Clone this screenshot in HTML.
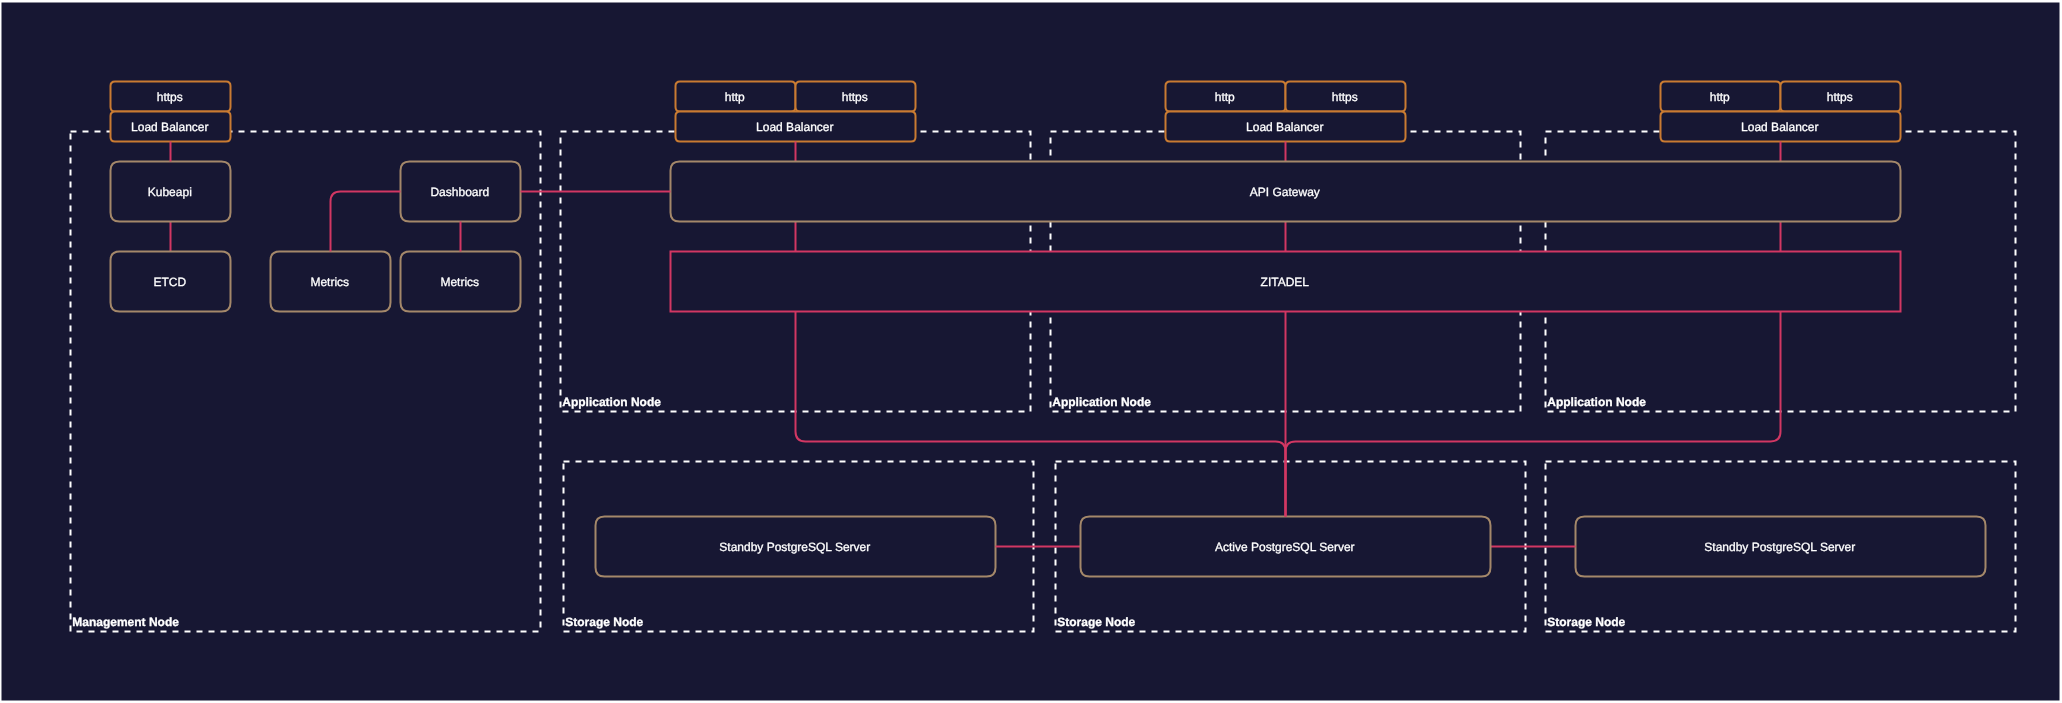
<!DOCTYPE html>
<html><head><meta charset="utf-8"><style>
html,body{margin:0;padding:0;background:#fff;}
body{width:2062px;height:703px;overflow:hidden;}
svg{display:block;will-change:transform;}
text{font-family:"Liberation Sans",sans-serif;text-rendering:geometricPrecision;}
</style></head><body>
<svg width="2062" height="703" viewBox="0 0 2062 703">
<rect x="0" y="0" width="2062" height="703" fill="#FFFFFF"/>
<rect x="1.5" y="2.5" width="2058" height="698" fill="#171733"/>
<g font-family="Liberation Sans, sans-serif" font-size="12" fill="#FFFFFF" stroke="#FFFFFF" stroke-width="0.3">
<rect x="70.5" y="131.5" width="470" height="500" fill="none" stroke="#FFFFFF" stroke-width="2" stroke-dasharray="6 6"/>
<rect x="560.5" y="131.5" width="470" height="280" fill="none" stroke="#FFFFFF" stroke-width="2" stroke-dasharray="6 6"/>
<rect x="1050.5" y="131.5" width="470" height="280" fill="none" stroke="#FFFFFF" stroke-width="2" stroke-dasharray="6 6"/>
<rect x="1545.5" y="131.5" width="470" height="280" fill="none" stroke="#FFFFFF" stroke-width="2" stroke-dasharray="6 6"/>
<rect x="563.5" y="461.5" width="470" height="170" fill="none" stroke="#FFFFFF" stroke-width="2" stroke-dasharray="6 6"/>
<rect x="1055.5" y="461.5" width="470" height="170" fill="none" stroke="#FFFFFF" stroke-width="2" stroke-dasharray="6 6"/>
<rect x="1545.5" y="461.5" width="470" height="170" fill="none" stroke="#FFFFFF" stroke-width="2" stroke-dasharray="6 6"/>
<path d="M115.0 81.5L226.0 81.5Q230.5 81.5 230.5 86.0L230.5 107.0Q230.5 111.5 226.0 111.5L115.0 111.5Q110.5 111.5 110.5 107.0L110.5 86.0Q110.5 81.5 115.0 81.5Z" fill="#171733" stroke="#C97B32" stroke-width="2"/>
<path d="M115.0 111.5L226.0 111.5Q230.5 111.5 230.5 116.0L230.5 137.0Q230.5 141.5 226.0 141.5L115.0 141.5Q110.5 141.5 110.5 137.0L110.5 116.0Q110.5 111.5 115.0 111.5Z" fill="#171733" stroke="#C97B32" stroke-width="2"/>
<path d="M680.0 81.5L791.0 81.5Q795.5 81.5 795.5 86.0L795.5 107.0Q795.5 111.5 791.0 111.5L680.0 111.5Q675.5 111.5 675.5 107.0L675.5 86.0Q675.5 81.5 680.0 81.5Z" fill="#171733" stroke="#C97B32" stroke-width="2"/>
<path d="M800.0 81.5L911.0 81.5Q915.5 81.5 915.5 86.0L915.5 107.0Q915.5 111.5 911.0 111.5L800.0 111.5Q795.5 111.5 795.5 107.0L795.5 86.0Q795.5 81.5 800.0 81.5Z" fill="#171733" stroke="#C97B32" stroke-width="2"/>
<path d="M680.0 111.5L911.0 111.5Q915.5 111.5 915.5 116.0L915.5 137.0Q915.5 141.5 911.0 141.5L680.0 141.5Q675.5 141.5 675.5 137.0L675.5 116.0Q675.5 111.5 680.0 111.5Z" fill="#171733" stroke="#C97B32" stroke-width="2"/>
<path d="M1170.0 81.5L1281.0 81.5Q1285.5 81.5 1285.5 86.0L1285.5 107.0Q1285.5 111.5 1281.0 111.5L1170.0 111.5Q1165.5 111.5 1165.5 107.0L1165.5 86.0Q1165.5 81.5 1170.0 81.5Z" fill="#171733" stroke="#C97B32" stroke-width="2"/>
<path d="M1290.0 81.5L1401.0 81.5Q1405.5 81.5 1405.5 86.0L1405.5 107.0Q1405.5 111.5 1401.0 111.5L1290.0 111.5Q1285.5 111.5 1285.5 107.0L1285.5 86.0Q1285.5 81.5 1290.0 81.5Z" fill="#171733" stroke="#C97B32" stroke-width="2"/>
<path d="M1170.0 111.5L1401.0 111.5Q1405.5 111.5 1405.5 116.0L1405.5 137.0Q1405.5 141.5 1401.0 141.5L1170.0 141.5Q1165.5 141.5 1165.5 137.0L1165.5 116.0Q1165.5 111.5 1170.0 111.5Z" fill="#171733" stroke="#C97B32" stroke-width="2"/>
<path d="M1665.0 81.5L1776.0 81.5Q1780.5 81.5 1780.5 86.0L1780.5 107.0Q1780.5 111.5 1776.0 111.5L1665.0 111.5Q1660.5 111.5 1660.5 107.0L1660.5 86.0Q1660.5 81.5 1665.0 81.5Z" fill="#171733" stroke="#C97B32" stroke-width="2"/>
<path d="M1785.0 81.5L1896.0 81.5Q1900.5 81.5 1900.5 86.0L1900.5 107.0Q1900.5 111.5 1896.0 111.5L1785.0 111.5Q1780.5 111.5 1780.5 107.0L1780.5 86.0Q1780.5 81.5 1785.0 81.5Z" fill="#171733" stroke="#C97B32" stroke-width="2"/>
<path d="M1665.0 111.5L1896.0 111.5Q1900.5 111.5 1900.5 116.0L1900.5 137.0Q1900.5 141.5 1896.0 141.5L1665.0 141.5Q1660.5 141.5 1660.5 137.0L1660.5 116.0Q1660.5 111.5 1665.0 111.5Z" fill="#171733" stroke="#C97B32" stroke-width="2"/>
<path d="M170.5 221.5 L170.5 251.5" fill="none" stroke="#D23763" stroke-width="2"/>
<path d="M795.5 141.5 L795.5 161.5" fill="none" stroke="#D23763" stroke-width="2"/>
<path d="M795.5 221.5 L795.5 251.5" fill="none" stroke="#D23763" stroke-width="2"/>
<path d="M1285.5 141.5 L1285.5 161.5" fill="none" stroke="#D23763" stroke-width="2"/>
<path d="M1285.5 221.5 L1285.5 251.5" fill="none" stroke="#D23763" stroke-width="2"/>
<path d="M1780.5 141.5 L1780.5 161.5" fill="none" stroke="#D23763" stroke-width="2"/>
<path d="M1780.5 221.5 L1780.5 251.5" fill="none" stroke="#D23763" stroke-width="2"/>
<path d="M119.5 161.5L221.5 161.5Q230.5 161.5 230.5 170.5L230.5 212.5Q230.5 221.5 221.5 221.5L119.5 221.5Q110.5 221.5 110.5 212.5L110.5 170.5Q110.5 161.5 119.5 161.5Z" fill="#171733" stroke="#A4886A" stroke-width="2"/>
<path d="M119.5 251.5L221.5 251.5Q230.5 251.5 230.5 260.5L230.5 302.5Q230.5 311.5 221.5 311.5L119.5 311.5Q110.5 311.5 110.5 302.5L110.5 260.5Q110.5 251.5 119.5 251.5Z" fill="#171733" stroke="#A4886A" stroke-width="2"/>
<path d="M279.5 251.5L381.5 251.5Q390.5 251.5 390.5 260.5L390.5 302.5Q390.5 311.5 381.5 311.5L279.5 311.5Q270.5 311.5 270.5 302.5L270.5 260.5Q270.5 251.5 279.5 251.5Z" fill="#171733" stroke="#A4886A" stroke-width="2"/>
<path d="M409.5 251.5L511.5 251.5Q520.5 251.5 520.5 260.5L520.5 302.5Q520.5 311.5 511.5 311.5L409.5 311.5Q400.5 311.5 400.5 302.5L400.5 260.5Q400.5 251.5 409.5 251.5Z" fill="#171733" stroke="#A4886A" stroke-width="2"/>
<path d="M409.5 161.5L511.5 161.5Q520.5 161.5 520.5 170.5L520.5 212.5Q520.5 221.5 511.5 221.5L409.5 221.5Q400.5 221.5 400.5 212.5L400.5 170.5Q400.5 161.5 409.5 161.5Z" fill="#171733" stroke="#A4886A" stroke-width="2"/>
<path d="M679.5 161.5L1891.5 161.5Q1900.5 161.5 1900.5 170.5L1900.5 212.5Q1900.5 221.5 1891.5 221.5L679.5 221.5Q670.5 221.5 670.5 212.5L670.5 170.5Q670.5 161.5 679.5 161.5Z" fill="#171733" stroke="#A4886A" stroke-width="2"/>
<path d="M604.5 516.5L986.5 516.5Q995.5 516.5 995.5 525.5L995.5 567.5Q995.5 576.5 986.5 576.5L604.5 576.5Q595.5 576.5 595.5 567.5L595.5 525.5Q595.5 516.5 604.5 516.5Z" fill="#171733" stroke="#A4886A" stroke-width="2"/>
<path d="M1584.5 516.5L1976.5 516.5Q1985.5 516.5 1985.5 525.5L1985.5 567.5Q1985.5 576.5 1976.5 576.5L1584.5 576.5Q1575.5 576.5 1575.5 567.5L1575.5 525.5Q1575.5 516.5 1584.5 516.5Z" fill="#171733" stroke="#A4886A" stroke-width="2"/>
<rect x="670.5" y="251.5" width="1230" height="60" fill="#171733" stroke="#D23763" stroke-width="2"/>
<path d="M170.5 141.5 L170.5 161.5" fill="none" stroke="#D23763" stroke-width="2"/>
<path d="M460.5 221.5 L460.5 251.5" fill="none" stroke="#D23763" stroke-width="2"/>
<path d="M400.5 191.5 L340.5 191.5 Q330.5 191.5 330.5 201.5 L330.5 251.5" fill="none" stroke="#D23763" stroke-width="2"/>
<path d="M520.5 191.5 L670.5 191.5" fill="none" stroke="#D23763" stroke-width="2"/>
<path d="M995.5 546.5 L1080.5 546.5" fill="none" stroke="#D23763" stroke-width="2"/>
<path d="M1490.5 546.5 L1575.5 546.5" fill="none" stroke="#D23763" stroke-width="2"/>
<path d="M1089.5 516.5L1481.5 516.5Q1490.5 516.5 1490.5 525.5L1490.5 567.5Q1490.5 576.5 1481.5 576.5L1089.5 576.5Q1080.5 576.5 1080.5 567.5L1080.5 525.5Q1080.5 516.5 1089.5 516.5Z" fill="#171733" stroke="#A4886A" stroke-width="2"/>
<path d="M795.5 311.5 L795.5 431.5 Q795.5 441.5 805.5 441.5 L1275.5 441.5 Q1285.5 441.5 1285.5 451.5 L1285.5 516.5" fill="none" stroke="#D23763" stroke-width="2"/>
<path d="M1285.5 311.5 L1285.5 516.5" fill="none" stroke="#D23763" stroke-width="2"/>
<path d="M1780.5 311.5 L1780.5 431.5 Q1780.5 441.5 1770.5 441.5 L1295.5 441.5 Q1285.5 441.5 1285.5 451.5 L1285.5 516.5" fill="none" stroke="#D23763" stroke-width="2"/>
<text x="169.8" y="100.6" text-anchor="middle">https</text>
<text x="169.8" y="130.6" text-anchor="middle">Load Balancer</text>
<text x="734.8" y="100.6" text-anchor="middle">http</text>
<text x="854.8" y="100.6" text-anchor="middle">https</text>
<text x="794.8" y="130.6" text-anchor="middle">Load Balancer</text>
<text x="1224.8" y="100.6" text-anchor="middle">http</text>
<text x="1344.8" y="100.6" text-anchor="middle">https</text>
<text x="1284.8" y="130.6" text-anchor="middle">Load Balancer</text>
<text x="1719.8" y="100.6" text-anchor="middle">http</text>
<text x="1839.8" y="100.6" text-anchor="middle">https</text>
<text x="1779.8" y="130.6" text-anchor="middle">Load Balancer</text>
<text x="169.8" y="195.6" text-anchor="middle">Kubeapi</text>
<text x="169.8" y="285.6" text-anchor="middle">ETCD</text>
<text x="329.8" y="285.6" text-anchor="middle">Metrics</text>
<text x="459.8" y="285.6" text-anchor="middle">Metrics</text>
<text x="459.8" y="195.6" text-anchor="middle">Dashboard</text>
<text x="1284.8" y="195.6" text-anchor="middle">API Gateway</text>
<text x="794.8" y="550.6" text-anchor="middle">Standby PostgreSQL Server</text>
<text x="1284.8" y="550.6" text-anchor="middle">Active PostgreSQL Server</text>
<text x="1779.8" y="550.6" text-anchor="middle">Standby PostgreSQL Server</text>
<text x="1284.8" y="285.6" text-anchor="middle">ZITADEL</text>
<text x="72.25" y="625.75" text-anchor="start" font-weight="bold">Management Node</text>
<text x="562.25" y="405.75" text-anchor="start" font-weight="bold">Application Node</text>
<text x="1052.25" y="405.75" text-anchor="start" font-weight="bold">Application Node</text>
<text x="1547.25" y="405.75" text-anchor="start" font-weight="bold">Application Node</text>
<text x="565.25" y="625.75" text-anchor="start" font-weight="bold">Storage Node</text>
<text x="1057.25" y="625.75" text-anchor="start" font-weight="bold">Storage Node</text>
<text x="1547.25" y="625.75" text-anchor="start" font-weight="bold">Storage Node</text>
</g>
</svg>
</body></html>
